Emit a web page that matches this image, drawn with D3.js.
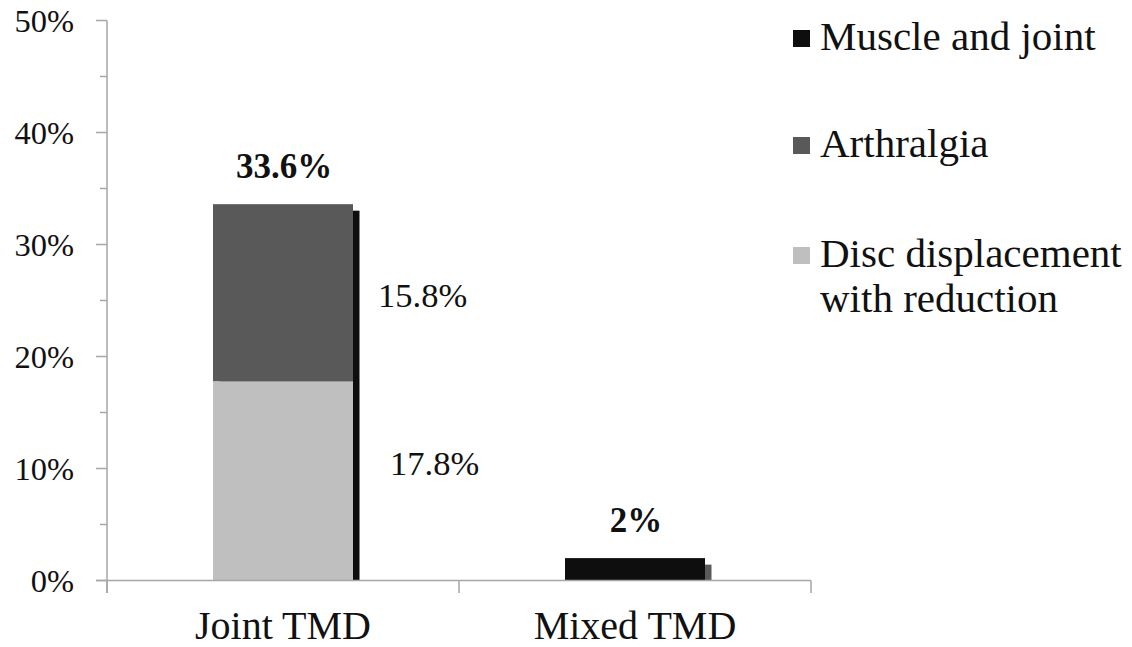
<!DOCTYPE html>
<html>
<head>
<meta charset="utf-8">
<script src="https://cdn.jsdelivr.net/npm/d3@7"></script>
<style>
  html, body { margin: 0; padding: 0; background: #ffffff; }
  svg text { font-family: "Liberation Serif", "Times New Roman", Times, serif; }
</style>
</head>
<body>
<svg id="chart" width="1132" height="647"></svg>
<script>
// Prevalence of TMD subtypes (percent of sample)
const categories = ["Joint TMD", "Mixed TMD"];
const seriesNames = ["Muscle and joint", "Arthralgia", "Disc displacement with reduction"];
const muscleAndJoint = [0, 2];
const arthralgia = [15.8, 0];
const discDisplacement = [17.8, 0];
const totals = [33.6, 2];
const totalLabels = ["33.6%", "2%"];
const segmentLabels = ["15.8%", "17.8%"];
const yTicks = [0, 10, 20, 30, 40, 50];

const colors = {
  "Muscle and joint": "#0e0e0e",
  "Arthralgia": "#595959",
  "Disc displacement with reduction": "#bfbfbf"
};
const shadowColors = ["#0e0e0e", "#5a5a5a"];

const svg = d3.select("#chart");
const x0 = 107, x1 = 811;
const y = d3.scaleLinear().domain([0, 50]).range([580.5, 20.5]);
const x = d3.scaleBand().domain(categories).range([x0, x1]).paddingInner(0).paddingOuter(0);
const barW = 140;
const axisColor = "#a6a6a6";
const textColor = "#111";

// Stack: disc displacement at the base, arthralgia on top, then muscle and joint
const rows = categories.map((c, i) => ({
  cat: c,
  "Disc displacement with reduction": discDisplacement[i],
  "Arthralgia": arthralgia[i],
  "Muscle and joint": muscleAndJoint[i]
}));
const stack = d3.stack().keys(["Disc displacement with reduction", "Arthralgia", "Muscle and joint"]);
const layers = stack(rows);

const barX = c => x(c) + x.bandwidth() / 2 - barW / 2;

// Drop shadows behind each column, clipped at the baseline
svg.append("defs").append("clipPath").attr("id", "plotClip")
  .append("rect").attr("x", 0).attr("y", 0).attr("width", 1132).attr("height", y(0));
svg.append("g").attr("clip-path", "url(#plotClip)")
  .selectAll("rect").data(categories).join("rect")
  .attr("x", c => barX(c) + 6.5)
  .attr("y", (c, i) => y(totals[i]) + 6.5)
  .attr("width", barW)
  .attr("height", (c, i) => y(0) - y(totals[i]))
  .attr("fill", (c, i) => shadowColors[i]);

// Stacked bars
svg.append("g").selectAll("g").data(layers).join("g")
  .attr("fill", d => colors[d.key])
  .selectAll("rect").data(d => d.filter(p => p[1] - p[0] > 0)).join("rect")
  .attr("x", d => barX(d.data.cat))
  .attr("y", d => y(d[1]))
  .attr("width", barW)
  .attr("height", d => y(d[0]) - y(d[1]));

// Y axis with minor ticks every 5%
const yAxisG = svg.append("g");
yAxisG.append("line").attr("x1", x0).attr("x2", x0).attr("y1", y(50)).attr("y2", y(0) + 12.5)
  .attr("stroke", axisColor).attr("stroke-width", 1.5);
const allTicks = d3.range(0, 51, 5);
yAxisG.selectAll("line.tick").data(allTicks).join("line").attr("class", "tick")
  .attr("x1", d => d % 10 === 0 ? x0 - 11 : x0 - 7).attr("x2", x0)
  .attr("y1", d => y(d)).attr("y2", d => y(d))
  .attr("stroke", axisColor).attr("stroke-width", 1.5);
yAxisG.selectAll("text").data(yTicks).join("text")
  .attr("x", 74).attr("y", d => y(d) + 11)
  .attr("text-anchor", "end").attr("font-size", 32.5).attr("fill", textColor)
  .text(d => d + "%");

// X axis with category boundary ticks
const xAxisG = svg.append("g");
xAxisG.append("line").attr("x1", x0 - 11).attr("x2", x1).attr("y1", y(0)).attr("y2", y(0))
  .attr("stroke", axisColor).attr("stroke-width", 1.5);
const bounds = categories.map(c => x(c) + x.bandwidth()).concat([x0]);
xAxisG.selectAll("line.tick").data(bounds).join("line").attr("class", "tick")
  .attr("x1", d => d).attr("x2", d => d).attr("y1", y(0)).attr("y2", y(0) + 12.5)
  .attr("stroke", axisColor).attr("stroke-width", 1.5);
xAxisG.selectAll("text").data(categories).join("text")
  .attr("x", c => x(c) + x.bandwidth() / 2)
  .attr("y", 639)
  .attr("text-anchor", "middle").attr("font-size", 40).attr("fill", textColor)
  .text(c => c);

// Totals above the columns
svg.append("g").selectAll("text").data(categories).join("text")
  .attr("x", c => x(c) + x.bandwidth() / 2 + 1)
  .attr("y", (c, i) => y(totals[i]) - 26)
  .attr("text-anchor", "middle").attr("font-size", 35).attr("font-weight", "bold").attr("fill", textColor)
  .text((c, i) => totalLabels[i]);

// Segment values beside the Joint TMD column
const jRight = barX(categories[0]) + barW;
const segPos = [
  { label: segmentLabels[0], dx: 25, yv: discDisplacement[0] + arthralgia[0] / 2, dy: 12 },
  { label: segmentLabels[1], dx: 37, yv: discDisplacement[0] / 2, dy: -8 }
];
svg.append("g").selectAll("text").data(segPos).join("text")
  .attr("x", d => jRight + d.dx)
  .attr("y", d => y(d.yv) + d.dy + 2)
  .attr("font-size", 34.5).attr("fill", textColor)
  .text(d => d.label);

// Legend
const legend = [
  { name: seriesNames[0], lines: ["Muscle and joint"], base: 50 },
  { name: seriesNames[1], lines: ["Arthralgia"], base: 157 },
  { name: seriesNames[2], lines: ["Disc displacement", "with reduction"], base: 267 }
];
const lg = svg.append("g").selectAll("g").data(legend).join("g");
lg.append("rect")
  .attr("x", 793).attr("y", d => d.base - 20).attr("width", 17).attr("height", 17)
  .attr("fill", d => colors[d.name]);
lg.append("text")
  .attr("x", 820).attr("y", d => d.base).attr("font-size", 41).attr("fill", textColor)
  .selectAll("tspan").data(d => d.lines).join("tspan")
  .attr("x", 820).attr("dy", (l, i) => i === 0 ? 0 : 45)
  .text(l => l);
</script>
</body>
</html>
